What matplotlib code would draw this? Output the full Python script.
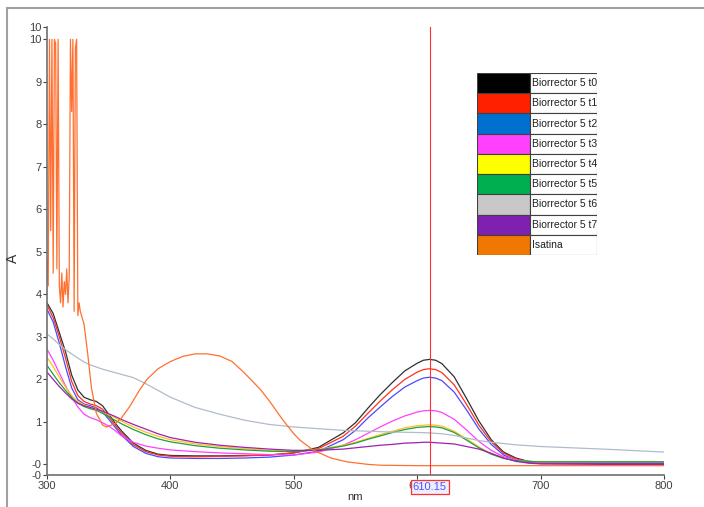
import matplotlib.pyplot as plt
from matplotlib.patches import Rectangle

# wspolna siatka dlugosci fal dla probek t0..t7
wl = [300, 305, 310, 315, 320, 325, 330, 335, 340, 345, 350, 355, 360, 370, 380, 390,
      400, 420, 440, 460, 480, 500, 520, 540, 550, 560, 570, 580, 590, 600, 605, 610,
      615, 620, 630, 640, 650, 660, 670, 680, 690, 700, 750, 800]

t0 = [3.80, 3.55, 3.10, 2.65, 2.10, 1.75, 1.58, 1.52, 1.48, 1.38, 1.18, 0.98, 0.80, 0.50, 0.33, 0.24,
      0.21, 0.20, 0.20, 0.21, 0.22, 0.27, 0.40, 0.74, 0.98, 1.32, 1.64, 1.93, 2.20, 2.38, 2.45, 2.47,
      2.45, 2.37, 2.06, 1.55, 1.02, 0.58, 0.29, 0.15, 0.07, 0.05, 0.05, 0.05]
t1 = [3.75, 3.45, 3.00, 2.50, 1.95, 1.62, 1.48, 1.42, 1.38, 1.30, 1.12, 0.93, 0.75, 0.46, 0.30, 0.22,
      0.19, 0.18, 0.19, 0.20, 0.22, 0.27, 0.37, 0.66, 0.90, 1.20, 1.49, 1.76, 2.00, 2.17, 2.23, 2.25,
      2.23, 2.16, 1.87, 1.41, 0.92, 0.53, 0.26, 0.13, 0.06, 0.04, 0.04, 0.04]
t2 = [3.65, 3.35, 2.85, 2.30, 1.80, 1.52, 1.42, 1.38, 1.33, 1.24, 1.06, 0.88, 0.70, 0.42, 0.26, 0.18,
      0.15, 0.14, 0.14, 0.15, 0.17, 0.22, 0.31, 0.58, 0.80, 1.09, 1.35, 1.60, 1.82, 1.97, 2.03, 2.05,
      2.03, 1.97, 1.70, 1.28, 0.83, 0.47, 0.22, 0.10, 0.04, 0.02, 0.02, 0.02]
t3 = [2.71, 2.45, 2.15, 1.85, 1.58, 1.35, 1.18, 1.10, 1.05, 0.98, 0.90, 0.80, 0.68, 0.52, 0.43, 0.38,
      0.34, 0.30, 0.27, 0.25, 0.23, 0.22, 0.29, 0.45, 0.58, 0.73, 0.88, 1.02, 1.14, 1.23, 1.26, 1.27,
      1.26, 1.22, 1.06, 0.81, 0.54, 0.33, 0.18, 0.11, 0.07, 0.06, 0.06, 0.06]
t4 = [2.52, 2.30, 2.05, 1.82, 1.62, 1.48, 1.40, 1.35, 1.30, 1.24, 1.17, 1.10, 1.02, 0.88, 0.76, 0.66,
      0.58, 0.48, 0.42, 0.37, 0.33, 0.31, 0.35, 0.45, 0.52, 0.61, 0.70, 0.78, 0.86, 0.91, 0.92, 0.93,
      0.92, 0.90, 0.78, 0.60, 0.41, 0.25, 0.15, 0.09, 0.07, 0.06, 0.06, 0.06]
t5 = [2.33, 2.12, 1.92, 1.74, 1.57, 1.44, 1.36, 1.31, 1.27, 1.20, 1.12, 1.04, 0.96, 0.82, 0.70, 0.60,
      0.53, 0.44, 0.38, 0.34, 0.31, 0.30, 0.34, 0.43, 0.50, 0.59, 0.67, 0.75, 0.82, 0.87, 0.88, 0.89,
      0.88, 0.86, 0.75, 0.57, 0.39, 0.24, 0.14, 0.09, 0.07, 0.06, 0.06, 0.06]
t6 = [3.07, 2.95, 2.82, 2.70, 2.60, 2.50, 2.41, 2.34, 2.29, 2.24, 2.20, 2.16, 2.12, 2.04, 1.90, 1.74,
      1.58, 1.34, 1.18, 1.04, 0.94, 0.88, 0.84, 0.80, 0.79, 0.78, 0.77, 0.76, 0.755, 0.75, 0.745, 0.74,
      0.73, 0.72, 0.68, 0.62, 0.56, 0.52, 0.49, 0.46, 0.44, 0.42, 0.36, 0.29]
t7 = [2.17, 2.00, 1.83, 1.68, 1.54, 1.44, 1.38, 1.34, 1.30, 1.25, 1.19, 1.13, 1.06, 0.94, 0.83, 0.72,
      0.63, 0.52, 0.45, 0.40, 0.36, 0.33, 0.33, 0.36, 0.39, 0.42, 0.45, 0.47, 0.50, 0.51, 0.52, 0.52,
      0.51, 0.50, 0.48, 0.42, 0.36, 0.26, 0.15, 0.07, 0.03, 0.01, 0.00, 0.00]

# isatina - osobna siatka (szum detektora w UV)
wl_isa = [300, 301, 302, 303, 304, 305, 306, 307, 308, 309, 310, 311, 312, 313, 314, 315, 316, 317,
          318, 319, 320, 321, 322, 323, 324, 325, 326, 327, 328, 330, 333, 336, 340, 345, 348, 352,
          356, 360, 367, 375, 381, 390, 400, 410, 420, 430, 440, 450, 460, 473, 480, 491, 500, 505,
          516, 530, 543, 560, 570, 600, 700, 800]
isa = [4.8, 4.2, 10, 5.5, 10, 4.5, 10, 9.9, 4.6, 10, 4.2, 3.8, 4.5, 3.7, 4.3, 4.0, 4.6, 3.8,
       4.4, 10, 8.3, 10, 3.6, 9.8, 10, 3.5, 3.8, 3.6, 3.5, 3.3, 2.6, 1.8, 1.2, 0.93, 0.88, 0.92,
       0.98, 1.08, 1.36, 1.75, 2.0, 2.25, 2.42, 2.54, 2.6, 2.6, 2.55, 2.42, 2.15, 1.76, 1.5, 1.05, 0.72, 0.57,
       0.33, 0.15, 0.06, 0.0, -0.02, -0.03, -0.03, -0.03]

labels = ["Biorrector 5 t0", "Biorrector 5 t1", "Biorrector 5 t2", "Biorrector 5 t3",
          "Biorrector 5 t4", "Biorrector 5 t5", "Biorrector 5 t6", "Biorrector 5 t7", "Isatina"]
legend_colors = ["#000000", "#ff2000", "#0070d0", "#ff40ff", "#ffff00",
                 "#00b050", "#c8c8c8", "#8020b0", "#f07800"]
line_colors = ["#303030", "#ff3020", "#4a4aff", "#ff40ff", "#ffc020",
               "#20a040", "#b0bcc8", "#a020b0", "#ff7030"]

cursor_nm = 610.15
y_ticks = [0, 1, 2, 3, 4, 5, 6, 7, 8, 9, 10]
x_ticks = [300, 400, 500, 600, 700, 800]
Y_MIN, Y_MAX = -0.25, 10.29

plt.rcParams["font.family"] = ["Liberation Sans", "DejaVu Sans"]

fig = plt.figure(figsize=(7.04, 5.07), dpi=100)
ax = fig.add_axes([47 / 704, 32 / 507, 617 / 704, 448 / 507])

series = [t0, t1, t2, t3, t4, t5, t6, t7]
for ys, c in zip(series, line_colors[:8]):
    ax.plot(wl, ys, color=c, linewidth=0.9)
ax.plot(wl_isa, isa, color=line_colors[8], linewidth=0.9)

# kursor
ax.axvline(cursor_nm, color="#ff3030", linewidth=0.8)
ax.text(cursor_nm, -0.027, f"{cursor_nm:.2f}", transform=ax.get_xaxis_transform(),
        ha="center", va="center", fontsize=8, color="#5050ff",
        bbox=dict(boxstyle="square,pad=0.2", fc="#eeeeff", ec="#ff3030", lw=0.9), zorder=5)

ax.set_xlim(300, 800)
ax.set_ylim(Y_MIN, Y_MAX)
ax.set_xticks(x_ticks)
ax.set_xticklabels([str(v) for v in x_ticks])
ax.set_yticks([Y_MIN] + y_ticks + [Y_MAX])
ax.set_yticklabels(["-0", "-0"] + [str(v) for v in y_ticks[1:]] + ["10"])
ax.tick_params(labelsize=8, colors="#404040", length=3, width=0.8, pad=1)

for s in ["top", "right"]:
    ax.spines[s].set_visible(False)
for s in ["left", "bottom"]:
    ax.spines[s].set_color("#707070")
    ax.spines[s].set_linewidth(1.2)

fig.text(13 / 704, 1 - 258 / 507, "A", rotation=90, ha="center", va="center", fontsize=10, color="#303030")
fig.text(355 / 704, 1 - 497 / 507, "nm", ha="center", va="center", fontsize=8, color="#303030")

# ramka calego okna
fig.add_artist(Rectangle((7 / 704, -0.05), 1.0, 1 - 8 / 507 + 0.05, transform=fig.transFigure,
                         fill=False, ec="#a0a0a0", lw=1.5))

# legenda w formie tabeli
leg = fig.add_axes([477 / 704, 1 - 255 / 507, 120 / 704, 182 / 507])
leg.set_xlim(0, 120)
leg.set_ylim(0, 9)
leg.axis("off")
for i, (lab, c) in enumerate(zip(labels, legend_colors)):
    y0 = 8 - i
    leg.add_patch(Rectangle((0, y0), 53, 1, fc=c, ec="#404040", lw=0.8))
    leg.add_patch(Rectangle((53, y0), 67, 1, fc="white", ec="#404040", lw=0.8))
    leg.text(55, y0 + 0.5, lab, va="center", ha="left", fontsize=7.5, color="#202020")

fig.savefig("out.png", dpi=100)
